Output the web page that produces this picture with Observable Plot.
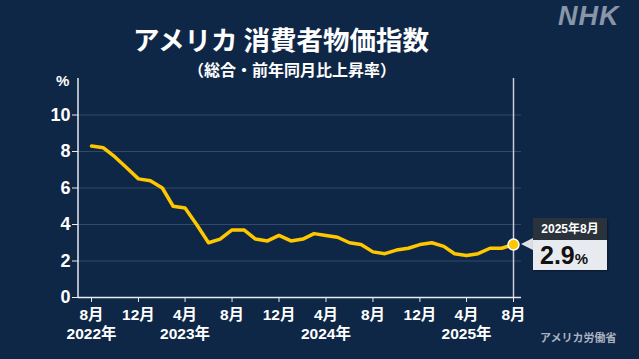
<!DOCTYPE html>
<html><head><meta charset="utf-8">
<script src="https://cdn.jsdelivr.net/npm/d3@7"></script>
<script src="https://cdn.jsdelivr.net/npm/@observablehq/plot@0.6"></script>
<style>
html,body{margin:0;padding:0;background:#0f2747;}
#wrap{position:relative;width:639px;height:359px;overflow:hidden;background:#0f2747;font-family:"Liberation Sans","Noto Sans CJK JP",sans-serif;color:#fff;}
#chart{position:absolute;left:0;top:0;}
#title{position:absolute;left:0;width:562px;top:22px;text-align:center;font-size:26.5px;font-weight:bold;font-family:"Noto Sans CJK JP",sans-serif;line-height:34px;}
#subtitle{position:absolute;left:0;width:584px;top:59px;text-align:center;font-size:16px;font-weight:bold;font-family:"Noto Sans CJK JP",sans-serif;line-height:20px;}
#logo{position:absolute;left:558px;top:1px;font-size:27px;font-weight:bold;font-style:italic;color:#8a96a8;letter-spacing:1px;font-family:"Liberation Sans",sans-serif;}
#source{position:absolute;left:540px;top:329px;font-size:11px;font-weight:bold;color:#aab3c0;font-family:"Noto Sans CJK JP",sans-serif;}
#pct{position:absolute;left:56px;top:72px;font-size:15px;font-weight:bold;font-family:"Liberation Sans",sans-serif;}
.co{position:absolute;}
#coHead{background:#2a323b;color:#fff;font-size:12px;font-weight:bold;text-align:center;line-height:22px;box-shadow:1px 1px 2px rgba(0,0,0,0.4);}
#coBody{background:#e7eaee;color:#111;text-align:left;padding-left:7px;box-sizing:border-box;line-height:30px;font-family:"Liberation Sans",sans-serif;box-shadow:1px 1px 2px rgba(0,0,0,0.4);}
#coBody b{font-size:25px;font-weight:bold;}
#coBody span{font-size:15px;font-weight:bold;}
#coTri{width:0;height:0;border-top:6px solid transparent;border-bottom:6px solid transparent;border-right:12px solid #dde1e6;}
</style></head><body>
<div id="wrap">
 <div id="chart"></div>
 <div id="title">アメリカ 消費者物価指数</div>
 <div id="subtitle">（総合・前年同月比上昇率）</div>
 <div id="logo">NHK</div>
 <div id="pct">%</div>
 <div id="source">アメリカ労働省</div>
 <div id="coTri" class="co"></div>
 <div id="coHead" class="co"></div>
 <div id="coBody" class="co"></div>
</div>
<script>
const periods = ["2022-08","2022-09","2022-10","2022-11","2022-12",
 "2023-01","2023-02","2023-03","2023-04","2023-05","2023-06","2023-07","2023-08","2023-09","2023-10","2023-11","2023-12",
 "2024-01","2024-02","2024-03","2024-04","2024-05","2024-06","2024-07","2024-08","2024-09","2024-10","2024-11","2024-12",
 "2025-01","2025-02","2025-03","2025-04","2025-05","2025-06","2025-07","2025-08"];
const cpi = [8.3,8.2,7.7,7.1,6.5,
 6.4,6.0,5.0,4.9,4.0,3.0,3.2,3.7,3.7,3.2,3.1,3.4,
 3.1,3.2,3.5,3.4,3.3,3.0,2.9,2.5,2.4,2.6,2.7,2.9,
 3.0,2.8,2.4,2.3,2.4,2.7,2.7,2.9];
const tickPeriods = ["2022-08","2022-12","2023-04","2023-08","2023-12","2024-04","2024-08","2024-12","2025-04","2025-08"];
const monthLabels = ["8月","12月","4月","8月","12月","4月","8月","12月","4月","8月"];
const yearLabels = ["2022年","","2023年","","","2024年","","","2025年",""];
const yTicks = [0,2,4,6,8,10];
const calloutLabel = "2025年8月";

const parse = d3.utcParse("%Y-%m");
const data = periods.map((p,i)=>({date:parse(p), value:cpi[i]}));
const tickDates = tickPeriods.map(parse);
const last = data[data.length-1];

const W=639,H=359,ML=78,MR=118,MT=78,MB=62;
const chart = Plot.plot({
  width:W, height:H,
  marginLeft:ML, marginRight:MR, marginTop:MT, marginBottom:MB,
  style:{background:"transparent", color:"#fff", fontFamily:"Liberation Sans, Noto Sans CJK JP, sans-serif"},
  x:{type:"utc", domain:[data[0].date,last.date], insetLeft:13, insetRight:8},
  y:{domain:[0,12]},
  marks:[
    Plot.gridY(yTicks.filter(d=>d>0), {stroke:"#34496a", strokeOpacity:1, strokeWidth:1}),
    Plot.ruleX([last.date], {stroke:"#c9cfd8", strokeWidth:1.5}),
    Plot.ruleY([0], {stroke:"#e8ebef", strokeWidth:1.5}),
    Plot.axisY({ticks:yTicks, tickSize:6, tickPadding:2, fontSize:18, fontWeight:"bold", tickFormat:d=>String(d), stroke:"#e8ebef", fill:"#fff", label:null}),
    Plot.axisX({ticks:tickDates, tickSize:5, tickPadding:5, fontSize:15.5, fontWeight:"bold", lineHeight:1.17,
      tickFormat:(d)=>{const k=tickDates.findIndex(t=>+t===+d); return yearLabels[k]? monthLabels[k]+"\n"+yearLabels[k] : monthLabels[k];},
      stroke:"#e8ebef", fill:"#fff", label:null}),
    Plot.line(data, {x:"date", y:"value", stroke:"#ffc700", strokeWidth:3.5, strokeLinejoin:"round", strokeLinecap:"round"}),
    Plot.dot([last], {x:"date", y:"value", r:5.5, fill:"#ffc700", stroke:"#fff", strokeWidth:1.5})
  ]
});
document.getElementById("chart").appendChild(chart);
// y-axis line
const yS = chart.scale("y"), xS = chart.scale("x");
d3.select(chart).append("line")
  .attr("x1",ML).attr("x2",ML).attr("y1",yS.apply(12)).attr("y2",yS.apply(0))
  .attr("stroke","#e8ebef").attr("stroke-width",1.5);

const cx = xS.apply(last.date), cy = yS.apply(last.value);
const tri = document.getElementById("coTri");
tri.style.left = (cx+8)+"px"; tri.style.top = (cy-6)+"px";
const head = document.getElementById("coHead");
head.textContent = calloutLabel;
Object.assign(head.style,{left:(cx+20)+"px", top:(cy-26)+"px", width:"74px", height:"22px"});
const body = document.getElementById("coBody");
body.innerHTML = "<b>"+last.value.toFixed(1)+"</b><span>%</span>";
Object.assign(body.style,{left:(cx+20)+"px", top:(cy-4)+"px", width:"74px", height:"30px"});
</script>
</body></html>
